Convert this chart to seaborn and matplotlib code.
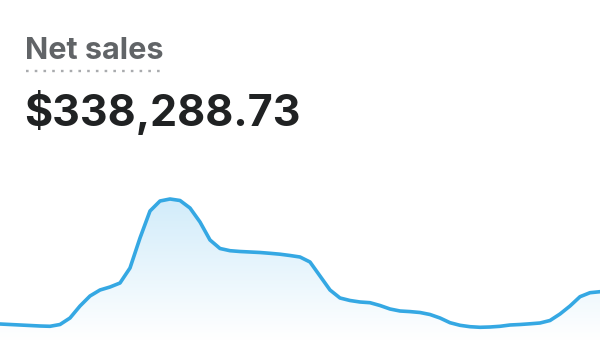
import numpy as np
import pandas as pd
import matplotlib
matplotlib.use("Agg")
import matplotlib.pyplot as plt
from matplotlib.colors import LinearSegmentedColormap
from matplotlib.lines import Line2D
import seaborn as sns

title = "Net sales"
total = "$338,288.73"
sales = [1600, 1550, 1500, 1450, 1400, 1370, 1550, 2200, 3400, 4400,
         5000, 5300, 5700, 7200, 10200, 12900, 13900, 14100, 13950, 13200,
         11800, 10000, 9150, 8930, 8850, 8800, 8750, 8670, 8580, 8450,
         8300, 7800, 6400, 5000, 4200, 3950, 3800, 3730, 3450, 3100,
         2900, 2840, 2750, 2550, 2200, 1730, 1470, 1330, 1270, 1300,
         1370, 1500, 1550, 1620, 1700, 1950, 2600, 3400, 4330, 4730, 4830]
days = list(range(len(sales)))

df = pd.DataFrame({"day": days, "sales": sales})

sns.set_theme(style="white")
plt.rcParams["font.family"] = ["Inter", "DejaVu Sans"]

fig = plt.figure(figsize=(6, 3.5), dpi=100)
fig.patch.set_facecolor("white")
ax = fig.add_axes([0, 10 / 350, 1, 340 / 350])

line_color = "#35a8e3"
# gradient fill under the line
fill = ax.fill_between(df["day"], df["sales"], 0, color="none", lw=0)
cmap = LinearSegmentedColormap.from_list("g", ["#ffffff", "#d2ecfa"])
grad = np.linspace(0, 1, 256).reshape(-1, 1)
img = ax.imshow(grad, cmap=cmap, aspect="auto", origin="lower",
                extent=[days[0], days[-1], 0, max(sales)], zorder=1)
img.set_clip_path(fill.get_paths()[0], transform=ax.transData)

sns.lineplot(data=df, x="day", y="sales", ax=ax, color=line_color,
             linewidth=2.6, zorder=3, solid_joinstyle="round",
             solid_capstyle="round")
ax.set_xlim(days[0], days[-1])
ax.set_ylim(0, 34000)
ax.axis("off")

fig.text(25 / 600, 1 - 59 / 350, title, fontsize=22, fontweight="bold",
         color="#616467", va="baseline", ha="left")
fig.add_artist(Line2D([25.5 / 600, 163 / 600], [1 - 71 / 350, 1 - 71 / 350],
                      transform=fig.transFigure, color="#a9abae",
                      linewidth=1.7, linestyle=(0, (1.1, 2.6))))
fig.text(24 / 600, 1 - 126 / 350, total, fontsize=31, fontweight="bold",
         color="#202223", va="baseline", ha="left")

fig.savefig("out.png", dpi=100, facecolor="white")
